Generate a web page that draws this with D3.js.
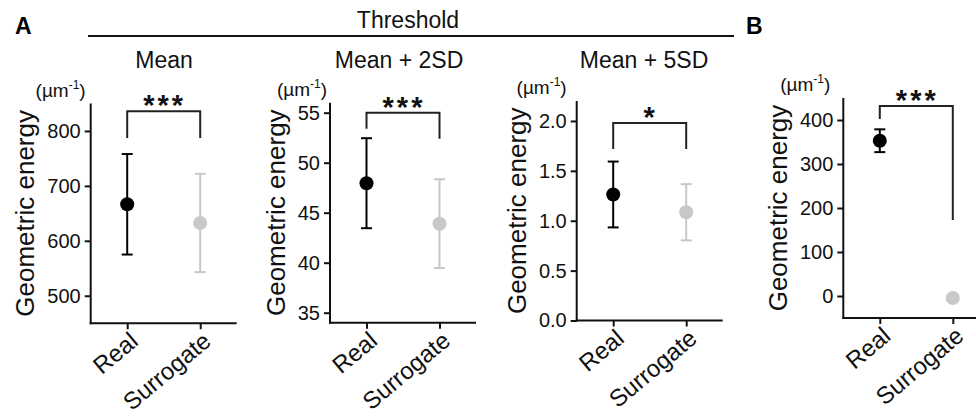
<!DOCTYPE html>
<html>
<head>
<meta charset="utf-8">
<script src="https://cdn.jsdelivr.net/npm/d3@7"></script>
<style>
  html, body { margin: 0; padding: 0; background: #fff; }
  svg { display: block; font-family: "Liberation Sans", Arial, sans-serif; }
</style>
</head>
<body>
<svg id="chart" width="976" height="416"></svg>
<script>
// ---------- data ----------
const categories = ["Real", "Surrogate"];
const panelTitles = ["Mean", "Mean + 2SD", "Mean + 5SD", ""];
const meanReal = [666.5, 47.95, 1.263, 352.9];
const meanSurrogate = [632.5, 43.9, 1.085, -4.5];
const errReal = [91.5, 4.5, 0.33, 25.9];
const errSurrogate = [89.5, 4.44, 0.282, 0];
const yDomains = [[450, 850], [34, 56], [0, 2.2], [-50, 450]];
const yTickValues = [[500, 600, 700, 800], [35, 40, 45, 50, 55], [0, 0.5, 1.0, 1.5, 2.0], [0, 100, 200, 300, 400]];
const yTickLabels = [["500", "600", "700", "800"], ["35", "40", "45", "50", "55"], ["0.0", "0.5", "1.0", "1.5", "2.0"], ["0", "100", "200", "300", "400"]];
const significance = ["***", "***", "*", "***"];
const bracketTop = [836, 55.0, 1.98, 432];
const bracketLeftEnd = [787, 53.4, 1.72, 402];
const bracketRightEnd = [787, 52.4, 1.72, 173];
const yAxisTitle = "Geometric energy";
const groupTitle = "Threshold";
const panelLetters = ["A", "B"];

// ---------- layout ----------
const layout = {
  axisX: [90.7, 330, 576.7, 843.3],
  plotW: 146,
  yRange: [[323.2, 103.5], [322.7, 102.7], [320.5, 101], [318, 98]],
  unitGap: [5, 3, 10, 13],
  titleCX: [164, 399, 644],
  titleY: 68,
  colors: { Real: "#000000", Surrogate: "#c8c8c8" },
  dotR: 7,
  capHalf: 5.5
};

const svg = d3.select("#chart");

// Panel letters and threshold header
svg.append("text").attr("x", 15).attr("y", 34).attr("font-size", 23).attr("font-weight", "bold").text(panelLetters[0]);
svg.append("text").attr("x", 746).attr("y", 34).attr("font-size", 23).attr("font-weight", "bold").text(panelLetters[1]);
svg.append("text").attr("x", 408).attr("y", 28).attr("font-size", 23).attr("text-anchor", "middle").attr("fill", "#111").text(groupTitle);
svg.append("line").attr("x1", 88).attr("x2", 734).attr("y1", 36).attr("y2", 36).attr("stroke", "#111").attr("stroke-width", 2);

for (let p = 0; p < 4; p++) {
  const ax = layout.axisX[p];
  const x = d3.scalePoint().domain(categories).range([ax, ax + layout.plotW]).padding(0.5);
  const y = d3.scaleLinear().domain(yDomains[p]).range(layout.yRange[p]);
  const yBottom = layout.yRange[p][0], yTop = layout.yRange[p][1];
  const g = svg.append("g");

  // y axis
  const yAxis = d3.axisLeft(y).tickValues(yTickValues[p]).tickFormat((d, i) => yTickLabels[p][i]).tickSizeOuter(0).tickSize(6).tickPadding(4);
  const yg = g.append("g").attr("transform", `translate(${ax},0)`).call(yAxis);
  yg.select(".domain").remove();
  yg.selectAll("line").attr("stroke", "#111").attr("stroke-width", 2);
  yg.selectAll("text").attr("font-size", 20).attr("fill", "#111").attr("font-family", "Liberation Sans, Arial, sans-serif");
  g.append("line").attr("x1", ax).attr("x2", ax).attr("y1", yTop).attr("y2", yBottom + 1).attr("stroke", "#111").attr("stroke-width", 2);

  // x axis
  const xAxis = d3.axisBottom(x).tickSizeOuter(0).tickSize(6).tickFormat("");
  const xg = g.append("g").attr("transform", `translate(0,${yBottom})`).call(xAxis);
  xg.select(".domain").remove();
  xg.selectAll("line").attr("stroke", "#111").attr("stroke-width", 2);
  g.append("line").attr("x1", ax - 1).attr("x2", ax + layout.plotW).attr("y1", yBottom).attr("y2", yBottom).attr("stroke", "#111").attr("stroke-width", 2);

  // x labels rotated
  categories.forEach(c => {
    g.append("text")
      .attr("transform", `translate(${x(c) + 7},${yBottom + 14}) rotate(-40)`)
      .attr("text-anchor", "end")
      .attr("dy", "0.35em")
      .attr("font-size", 24)
      .attr("fill", "#111")
      .text(c);
  });

  // y axis title
  const bb = yg.node().getBBox();
  const labelX = ax + bb.x - 13;
  g.append("text")
    .attr("transform", `translate(${labelX},${(yTop + yBottom) / 2}) rotate(-90)`)
    .attr("text-anchor", "middle")
    .attr("font-size", 26)
    .attr("fill", "#111")
    .text(yAxisTitle);

  // unit label
  const unit = g.append("text").attr("x", ax - layout.unitGap[p]).attr("y", yTop - 7).attr("text-anchor", "end").attr("font-size", 19).attr("fill", "#111");
  unit.append("tspan").text("(µm");
  unit.append("tspan").attr("font-size", 12).attr("dy", -8).text("-1");
  unit.append("tspan").attr("dy", 8).text(")");

  // panel title
  if (panelTitles[p]) {
    g.append("text").attr("x", layout.titleCX[p]).attr("y", layout.titleY).attr("text-anchor", "middle").attr("font-size", 23).attr("fill", "#111").text(panelTitles[p]);
  }

  // bracket
  const xr = x("Real"), xs = x("Surrogate");
  const bp = d3.path();
  bp.moveTo(xr, y(bracketLeftEnd[p]));
  bp.lineTo(xr, y(bracketTop[p]));
  bp.lineTo(xs, y(bracketTop[p]));
  bp.lineTo(xs, y(bracketRightEnd[p]));
  g.append("path").attr("d", bp.toString()).attr("fill", "none").attr("stroke", "#222").attr("stroke-width", 2);
  g.append("text").attr("x", (xr + xs) / 2 + 1).attr("y", y(bracketTop[p]) + 4).attr("text-anchor", "middle")
    .attr("font-size", 29).attr("font-weight", "bold").attr("letter-spacing", 3).attr("fill", "#111").text(significance[p]);

  // points with error bars
  const pts = [
    { cat: "Real", m: meanReal[p], e: errReal[p] },
    { cat: "Surrogate", m: meanSurrogate[p], e: errSurrogate[p] }
  ];
  pts.forEach(d => {
    const col = layout.colors[d.cat];
    const cx = x(d.cat);
    if (d.e > 0) {
      g.append("line").attr("x1", cx).attr("x2", cx).attr("y1", y(d.m - d.e)).attr("y2", y(d.m + d.e)).attr("stroke", col).attr("stroke-width", 2);
      [d.m - d.e, d.m + d.e].forEach(v => {
        g.append("line").attr("x1", cx - layout.capHalf).attr("x2", cx + layout.capHalf).attr("y1", y(v)).attr("y2", y(v)).attr("stroke", col).attr("stroke-width", 2);
      });
    }
    g.append("circle").attr("cx", cx).attr("cy", y(d.m)).attr("r", layout.dotR).attr("fill", col);
  });
}
</script>
</body>
</html>
